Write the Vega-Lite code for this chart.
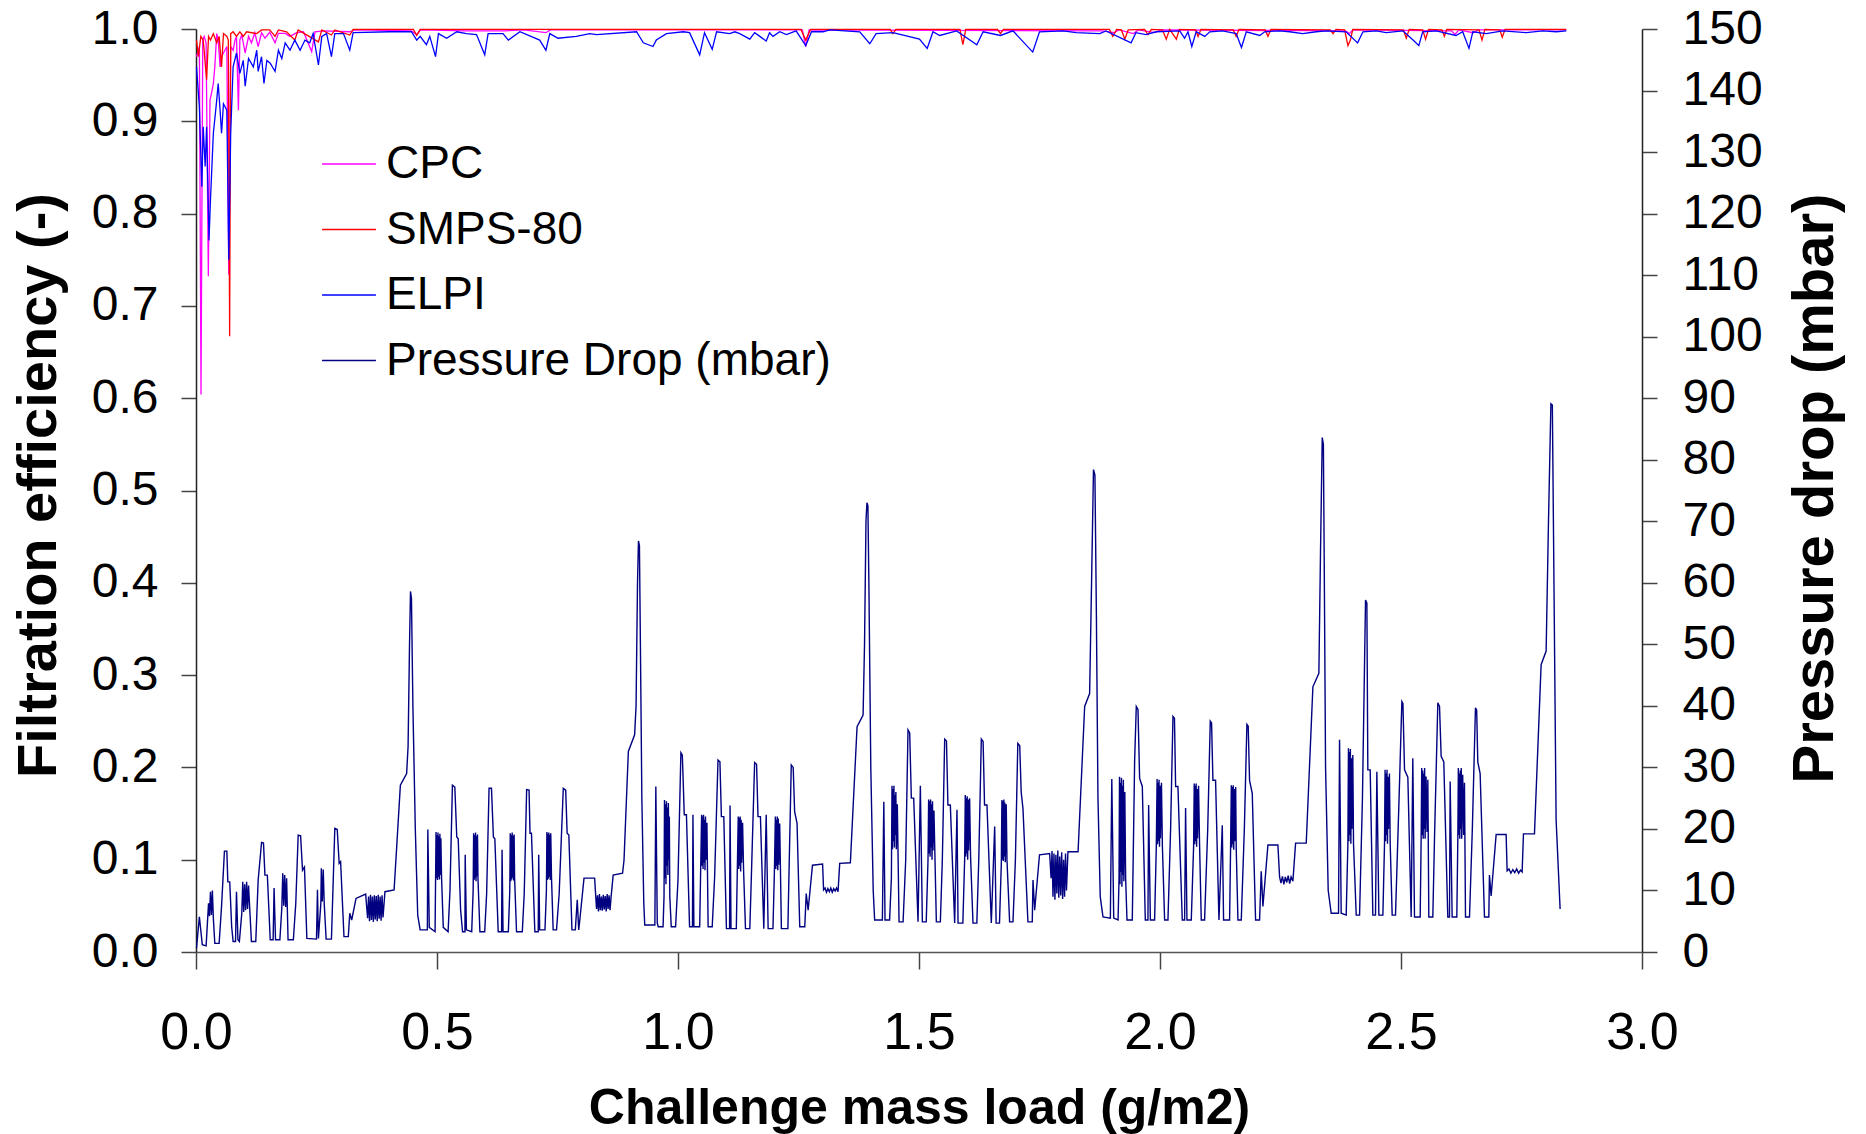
{
  "$schema": "https://vega.github.io/schema/vega-lite/v6.json",
  "autosize": {"type": "none"},
  "padding": {"left": 196, "top": 29, "right": 224, "bottom": 182},
  "width": 1446,
  "height": 923,
  "background": "white",
  "config": {
    "view": {"stroke": null},
    "font": "Liberation Sans",
    "axis": {"grid": false, "labelFont": "Liberation Sans", "titleFont": "Liberation Sans", "labelColor": "black", "titleColor": "black", "domainColor": "#222", "tickColor": "#444", "domainWidth": 1.5, "tickWidth": 1.5, "labelFlush": false, "labelOverlap": false}
  },
  "datasets": {
    "dp": [
      {"x":0.001,"p":0.6},{"x":0.007,"p":5.7},{"x":0.010,"p":3.5},{"x":0.013,"p":1.2},{"x":0.021,"p":1.0},{"x":0.026,"p":7.9},{"x":0.028,"p":5.8},{"x":0.030,"p":9.8},{"x":0.032,"p":6.0},{"x":0.034,"p":10.0},{"x":0.036,"p":5.5},{"x":0.039,"p":1.4},{"x":0.048,"p":1.4},{"x":0.053,"p":7.4},{"x":0.059,"p":16.4},{"x":0.064,"p":16.4},{"x":0.066,"p":11.4},{"x":0.070,"p":11.4},{"x":0.074,"p":4.1},{"x":0.077,"p":1.7},{"x":0.082,"p":1.7},{"x":0.084,"p":9.8},{"x":0.087,"p":2.0},{"x":0.090,"p":1.7},{"x":0.095,"p":6.3},{"x":0.097,"p":11.4},{"x":0.099,"p":6.5},{"x":0.101,"p":11.0},{"x":0.103,"p":6.8},{"x":0.105,"p":11.4},{"x":0.107,"p":7.0},{"x":0.109,"p":10.8},{"x":0.112,"p":6.3},{"x":0.115,"p":1.7},{"x":0.124,"p":1.7},{"x":0.129,"p":11.7},{"x":0.136,"p":17.8},{"x":0.140,"p":17.7},{"x":0.143,"p":12.5},{"x":0.148,"p":12.5},{"x":0.154,"p":2.0},{"x":0.160,"p":2.0},{"x":0.162,"p":10.4},{"x":0.165,"p":2.0},{"x":0.174,"p":2.0},{"x":0.178,"p":7.1},{"x":0.180,"p":12.8},{"x":0.182,"p":7.5},{"x":0.184,"p":12.5},{"x":0.186,"p":7.3},{"x":0.188,"p":12.0},{"x":0.191,"p":2.0},{"x":0.202,"p":2.0},{"x":0.207,"p":7.9},{"x":0.212,"p":19.0},{"x":0.217,"p":18.9},{"x":0.221,"p":13.3},{"x":0.225,"p":13.8},{"x":0.230,"p":2.2},{"x":0.250,"p":2.1},{"x":0.252,"p":10.1},{"x":0.254,"p":2.2},{"x":0.259,"p":7.9},{"x":0.260,"p":13.6},{"x":0.262,"p":8.2},{"x":0.264,"p":13.4},{"x":0.266,"p":7.9},{"x":0.270,"p":2.1},{"x":0.281,"p":2.1},{"x":0.288,"p":20.1},{"x":0.293,"p":19.9},{"x":0.297,"p":14.4},{"x":0.300,"p":14.7},{"x":0.307,"p":2.5},{"x":0.316,"p":2.5},{"x":0.319,"p":6.3},{"x":0.323,"p":5.2},{"x":0.332,"p":8.7},{"x":0.352,"p":9.4},{"x":0.356,"p":5.5},{"x":0.358,"p":9.0},{"x":0.360,"p":5.0},{"x":0.362,"p":9.3},{"x":0.364,"p":5.2},{"x":0.366,"p":9.0},{"x":0.368,"p":4.9},{"x":0.370,"p":9.2},{"x":0.372,"p":5.3},{"x":0.374,"p":9.1},{"x":0.376,"p":5.0},{"x":0.378,"p":9.3},{"x":0.380,"p":5.4},{"x":0.382,"p":9.0},{"x":0.384,"p":5.1},{"x":0.386,"p":9.2},{"x":0.388,"p":5.6},{"x":0.392,"p":9.8},{"x":0.411,"p":10.1},{"x":0.416,"p":16.6},{"x":0.424,"p":27.1},{"x":0.437,"p":29.0},{"x":0.440,"p":33.4},{"x":0.443,"p":50.0},{"x":0.445,"p":58.6},{"x":0.447,"p":57.5},{"x":0.450,"p":40.0},{"x":0.455,"p":20.0},{"x":0.460,"p":6.0},{"x":0.465,"p":3.6},
      {"x":0.480,"p":3.6},{"x":0.481,"p":19.9},{"x":0.484,"p":4.0},{"x":0.496,"p":3.3},{"x":0.498,"p":19.5},{"x":0.499,"p":12.0},{"x":0.500,"p":19.0},{"x":0.501,"p":11.7},{"x":0.502,"p":19.4},{"x":0.503,"p":12.2},{"x":0.504,"p":18.8},{"x":0.505,"p":11.8},{"x":0.506,"p":19.2},{"x":0.507,"p":12.5},{"x":0.508,"p":18.5},{"x":0.5095,"p":12.0},{"x":0.513,"p":4.0},{"x":0.523,"p":3.3},{"x":0.527,"p":10.1},{"x":0.532,"p":27.1},{"x":0.537,"p":26.8},{"x":0.541,"p":18.7},{"x":0.544,"p":18.4},{"x":0.549,"p":6.8},{"x":0.553,"p":3.3},{"x":0.558,"p":3.3},{"x":0.5585,"p":15.8},{"x":0.561,"p":3.6},{"x":0.572,"p":3.3},{"x":0.575,"p":10.0},{"x":0.576,"p":19.3},{"x":0.577,"p":11.7},{"x":0.578,"p":19.0},{"x":0.579,"p":12.0},{"x":0.580,"p":19.4},{"x":0.581,"p":11.5},{"x":0.582,"p":18.8},{"x":0.583,"p":12.3},{"x":0.584,"p":19.1},{"x":0.585,"p":12.0},{"x":0.589,"p":3.3},{"x":0.599,"p":3.3},{"x":0.603,"p":9.5},{"x":0.608,"p":26.6},{"x":0.613,"p":26.6},{"x":0.617,"p":18.7},{"x":0.620,"p":18.4},{"x":0.627,"p":3.3},{"x":0.634,"p":3.3},{"x":0.635,"p":16.6},{"x":0.637,"p":3.3},{"x":0.648,"p":3.3},{"x":0.651,"p":10.0},{"x":0.652,"p":19.3},{"x":0.653,"p":11.5},{"x":0.654,"p":19.0},{"x":0.655,"p":11.8},{"x":0.656,"p":19.4},{"x":0.657,"p":12.1},{"x":0.658,"p":18.9},{"x":0.659,"p":11.6},{"x":0.660,"p":19.1},{"x":0.661,"p":12.0},{"x":0.665,"p":3.3},{"x":0.677,"p":3.3},{"x":0.681,"p":9.5},{"x":0.686,"p":26.4},{"x":0.691,"p":26.3},{"x":0.693,"p":19.3},{"x":0.696,"p":19.3},{"x":0.703,"p":3.3},{"x":0.710,"p":3.3},{"x":0.711,"p":15.8},{"x":0.713,"p":3.6},{"x":0.724,"p":3.6},{"x":0.727,"p":10.0},{"x":0.728,"p":19.5},{"x":0.729,"p":11.7},{"x":0.730,"p":19.2},{"x":0.731,"p":11.9},{"x":0.732,"p":19.4},{"x":0.733,"p":12.2},{"x":0.734,"p":19.0},{"x":0.735,"p":11.7},{"x":0.736,"p":19.3},{"x":0.7376,"p":12.0},{"x":0.741,"p":3.6},{"x":0.748,"p":3.6},{"x":0.7535,"p":9.5},{"x":0.762,"p":26.6},{"x":0.767,"p":26.3},{"x":0.770,"p":19.3},{"x":0.7735,"p":19.0},{"x":0.780,"p":3.6},{"x":0.787,"p":3.6},{"x":0.791,"p":8.5},{"x":0.794,"p":3.6},{"x":0.796,"p":5.0},{"x":0.805,"p":12.0},{"x":0.827,"p":12.0},{"x":0.831,"p":7.0},{"x":0.833,"p":9.2},{"x":0.835,"p":6.6},{"x":0.837,"p":9.4},{"x":0.839,"p":6.8},{"x":0.841,"p":9.0},{"x":0.843,"p":6.7},{"x":0.845,"p":9.3},{"x":0.847,"p":6.9},{"x":0.849,"p":9.1},{"x":0.851,"p":6.6},{"x":0.853,"p":9.4},{"x":0.855,"p":7.0},{"x":0.857,"p":9.2},{"x":0.859,"p":6.8},{"x":0.861,"p":8.8},{"x":0.8655,"p":12.5},{"x":0.885,"p":12.8},{"x":0.888,"p":14.9},{"x":0.897,"p":32.6},{"x":0.910,"p":35.3},{"x":0.913,"p":40.0},{"x":0.916,"p":60.0},{"x":0.918,"p":66.8},{"x":0.920,"p":66.0},{"x":0.922,"p":50.0},{"x":0.925,"p":25.0},{"x":0.929,"p":8.0},{"x":0.931,"p":4.4},
      {"x":0.952,"p":4.4},{"x":0.954,"p":26.9},{"x":0.957,"p":4.7},{"x":0.959,"p":4.1},{"x":0.969,"p":4.1},{"x":0.971,"p":9.0},{"x":0.972,"p":24.7},{"x":0.973,"p":12.0},{"x":0.974,"p":24.0},{"x":0.975,"p":11.0},{"x":0.976,"p":24.5},{"x":0.977,"p":14.0},{"x":0.978,"p":23.5},{"x":0.979,"p":12.5},{"x":0.980,"p":24.2},{"x":0.981,"p":15.0},{"x":0.982,"p":22.0},{"x":0.983,"p":9.0},{"x":0.986,"p":4.1},{"x":0.995,"p":4.1},{"x":1.000,"p":11.7},{"x":1.006,"p":32.4},{"x":1.009,"p":32.0},{"x":1.013,"p":22.3},{"x":1.0175,"p":22.3},{"x":1.024,"p":4.1},{"x":1.030,"p":4.1},{"x":1.031,"p":22.3},{"x":1.033,"p":4.1},{"x":1.045,"p":4.1},{"x":1.047,"p":13.3},{"x":1.049,"p":22.3},{"x":1.050,"p":14.0},{"x":1.051,"p":22.0},{"x":1.052,"p":13.5},{"x":1.053,"p":22.3},{"x":1.054,"p":14.5},{"x":1.055,"p":21.5},{"x":1.056,"p":13.3},{"x":1.057,"p":22.0},{"x":1.058,"p":15.0},{"x":1.060,"p":21.0},{"x":1.0625,"p":4.1},{"x":1.071,"p":4.1},{"x":1.076,"p":12.2},{"x":1.083,"p":31.2},{"x":1.087,"p":30.9},{"x":1.090,"p":22.0},{"x":1.095,"p":22.0},{"x":1.1005,"p":3.8},{"x":1.107,"p":3.8},{"x":1.108,"p":23.8},{"x":1.110,"p":3.8},{"x":1.121,"p":3.8},{"x":1.123,"p":13.1},{"x":1.125,"p":22.0},{"x":1.126,"p":13.5},{"x":1.127,"p":21.8},{"x":1.128,"p":14.0},{"x":1.129,"p":22.0},{"x":1.130,"p":13.1},{"x":1.131,"p":21.5},{"x":1.132,"p":14.5},{"x":1.134,"p":21.0},{"x":1.136,"p":13.5},{"x":1.140,"p":3.8},{"x":1.149,"p":3.8},{"x":1.152,"p":11.7},{"x":1.159,"p":30.8},{"x":1.163,"p":30.5},{"x":1.166,"p":22.0},{"x":1.171,"p":22.0},{"x":1.178,"p":3.8},{"x":1.183,"p":22.3},{"x":1.187,"p":3.8},{"x":1.197,"p":3.8},{"x":1.200,"p":13.1},{"x":1.202,"p":22.0},{"x":1.203,"p":13.5},{"x":1.204,"p":21.5},{"x":1.205,"p":14.0},{"x":1.206,"p":22.0},{"x":1.207,"p":13.3},{"x":1.208,"p":21.7},{"x":1.209,"p":14.2},{"x":1.211,"p":20.9},{"x":1.2145,"p":3.8},{"x":1.228,"p":3.8},{"x":1.230,"p":11.7},{"x":1.235,"p":30.4},{"x":1.239,"p":30.0},{"x":1.242,"p":22.8},{"x":1.247,"p":20.9},{"x":1.2526,"p":4.1},{"x":1.263,"p":4.1},{"x":1.266,"p":9.5},{"x":1.270,"p":6.8},{"x":1.279,"p":14.1},{"x":1.300,"p":14.3},{"x":1.302,"p":10.1},{"x":1.305,"p":10.4},{"x":1.308,"p":9.7},{"x":1.311,"p":10.3},{"x":1.314,"p":9.8},{"x":1.317,"p":10.4},{"x":1.320,"p":9.7},{"x":1.323,"p":10.3},{"x":1.326,"p":9.9},{"x":1.329,"p":10.4},{"x":1.332,"p":9.8},{"x":1.3355,"p":14.4},{"x":1.3576,"p":14.5},{"x":1.3715,"p":36.6},{"x":1.384,"p":38.5},{"x":1.387,"p":50.0},{"x":1.390,"p":70.0},{"x":1.392,"p":73.0},{"x":1.394,"p":72.5},{"x":1.396,"p":60.0},{"x":1.400,"p":30.0},{"x":1.405,"p":10.0},{"x":1.408,"p":5.2},
      {"x":1.424,"p":5.2},{"x":1.427,"p":24.4},{"x":1.4295,"p":5.2},{"x":1.439,"p":5.2},{"x":1.4427,"p":12.0},{"x":1.444,"p":27.0},{"x":1.445,"p":16.7},{"x":1.446,"p":26.5},{"x":1.447,"p":18.0},{"x":1.448,"p":27.0},{"x":1.449,"p":17.0},{"x":1.450,"p":25.5},{"x":1.451,"p":19.0},{"x":1.452,"p":26.0},{"x":1.453,"p":16.7},{"x":1.455,"p":24.0},{"x":1.4586,"p":4.9},{"x":1.467,"p":4.9},{"x":1.4724,"p":14.9},{"x":1.4772,"p":36.1},{"x":1.4807,"p":35.6},{"x":1.4841,"p":25.0},{"x":1.489,"p":25.0},{"x":1.498,"p":4.9},{"x":1.5028,"p":27.0},{"x":1.507,"p":4.9},{"x":1.515,"p":4.9},{"x":1.5187,"p":15.0},{"x":1.520,"p":24.8},{"x":1.521,"p":16.0},{"x":1.522,"p":24.5},{"x":1.523,"p":15.5},{"x":1.524,"p":24.8},{"x":1.525,"p":17.0},{"x":1.526,"p":24.0},{"x":1.527,"p":15.0},{"x":1.528,"p":24.5},{"x":1.529,"p":16.5},{"x":1.531,"p":23.0},{"x":1.536,"p":4.9},{"x":1.5443,"p":4.9},{"x":1.5484,"p":14.9},{"x":1.5533,"p":34.6},{"x":1.557,"p":34.3},{"x":1.560,"p":23.9},{"x":1.565,"p":23.9},{"x":1.574,"p":4.7},{"x":1.5788,"p":23.1},{"x":1.581,"p":4.7},{"x":1.591,"p":4.7},{"x":1.5947,"p":15.0},{"x":1.596,"p":25.5},{"x":1.597,"p":15.5},{"x":1.598,"p":25.0},{"x":1.599,"p":16.0},{"x":1.600,"p":25.3},{"x":1.601,"p":15.0},{"x":1.602,"p":24.8},{"x":1.603,"p":16.5},{"x":1.605,"p":25.0},{"x":1.607,"p":15.5},{"x":1.612,"p":4.7},{"x":1.620,"p":4.7},{"x":1.624,"p":15.0},{"x":1.6293,"p":34.6},{"x":1.633,"p":34.2},{"x":1.636,"p":23.9},{"x":1.641,"p":23.9},{"x":1.650,"p":4.7},{"x":1.657,"p":20.4},{"x":1.660,"p":4.7},{"x":1.667,"p":4.7},{"x":1.6708,"p":14.4},{"x":1.672,"p":24.7},{"x":1.673,"p":15.0},{"x":1.674,"p":24.5},{"x":1.675,"p":14.8},{"x":1.676,"p":24.8},{"x":1.677,"p":15.5},{"x":1.678,"p":24.3},{"x":1.679,"p":14.6},{"x":1.681,"p":24.0},{"x":1.6825,"p":15.0},{"x":1.688,"p":4.9},{"x":1.695,"p":4.9},{"x":1.700,"p":15.0},{"x":1.705,"p":33.9},{"x":1.709,"p":33.5},{"x":1.712,"p":26.0},{"x":1.7157,"p":23.3},{"x":1.726,"p":4.9},{"x":1.735,"p":4.9},{"x":1.7365,"p":11.7},{"x":1.740,"p":6.8},{"x":1.750,"p":15.8},{"x":1.771,"p":16.0},{"x":1.774,"p":12.0},{"x":1.776,"p":16.4},{"x":1.778,"p":9.0},{"x":1.780,"p":16.0},{"x":1.782,"p":8.5},{"x":1.784,"p":15.8},{"x":1.786,"p":9.5},{"x":1.788,"p":16.5},{"x":1.790,"p":8.8},{"x":1.792,"p":15.5},{"x":1.794,"p":9.2},{"x":1.796,"p":16.2},{"x":1.798,"p":8.6},{"x":1.800,"p":15.0},{"x":1.802,"p":9.0},{"x":1.804,"p":16.0},{"x":1.806,"p":10.0},{"x":1.809,"p":16.3},{"x":1.830,"p":16.3},{"x":1.8437,"p":39.9},{"x":1.854,"p":42.0},{"x":1.858,"p":60.0},{"x":1.862,"p":78.4},{"x":1.865,"p":77.5},{"x":1.868,"p":55.0},{"x":1.8713,"p":25.0},{"x":1.876,"p":9.0},{"x":1.8817,"p":5.7},
      {"x":1.897,"p":5.5},{"x":1.900,"p":28.1},{"x":1.904,"p":5.5},{"x":1.913,"p":5.2},{"x":1.915,"p":12.0},{"x":1.916,"p":28.5},{"x":1.917,"p":11.0},{"x":1.918,"p":27.5},{"x":1.919,"p":13.0},{"x":1.920,"p":28.3},{"x":1.921,"p":10.6},{"x":1.922,"p":27.0},{"x":1.923,"p":12.5},{"x":1.924,"p":28.0},{"x":1.925,"p":11.5},{"x":1.927,"p":26.0},{"x":1.9287,"p":12.0},{"x":1.9315,"p":5.2},{"x":1.9425,"p":5.2},{"x":1.9474,"p":31.2},{"x":1.9508,"p":39.9},{"x":1.9543,"p":39.4},{"x":1.9577,"p":28.2},{"x":1.9633,"p":26.9},{"x":1.9695,"p":5.2},{"x":1.975,"p":5.2},{"x":1.9764,"p":23.9},{"x":1.980,"p":5.2},{"x":1.9888,"p":5.2},{"x":1.9923,"p":17.1},{"x":1.994,"p":28.1},{"x":1.995,"p":17.5},{"x":1.996,"p":27.5},{"x":1.997,"p":18.0},{"x":1.998,"p":28.0},{"x":1.999,"p":17.1},{"x":2.000,"p":27.0},{"x":2.001,"p":18.5},{"x":2.003,"p":27.5},{"x":2.005,"p":17.1},{"x":2.0096,"p":5.2},{"x":2.0165,"p":5.2},{"x":2.022,"p":20.0},{"x":2.0269,"p":38.3},{"x":2.030,"p":38.0},{"x":2.0324,"p":26.9},{"x":2.0372,"p":26.9},{"x":2.0462,"p":5.2},{"x":2.0511,"p":5.2},{"x":2.0531,"p":23.4},{"x":2.0559,"p":5.2},{"x":2.0649,"p":5.2},{"x":2.0697,"p":17.1},{"x":2.071,"p":27.4},{"x":2.072,"p":17.5},{"x":2.073,"p":27.0},{"x":2.074,"p":18.0},{"x":2.075,"p":27.4},{"x":2.076,"p":17.1},{"x":2.077,"p":26.5},{"x":2.078,"p":18.5},{"x":2.080,"p":27.0},{"x":2.0822,"p":17.1},{"x":2.0856,"p":5.2},{"x":2.0925,"p":5.2},{"x":2.099,"p":20.0},{"x":2.1043,"p":37.5},{"x":2.107,"p":37.2},{"x":2.1098,"p":27.9},{"x":2.1153,"p":27.9},{"x":2.1223,"p":5.2},{"x":2.1292,"p":20.6},{"x":2.1319,"p":5.2},{"x":2.1444,"p":5.2},{"x":2.1464,"p":16.6},{"x":2.148,"p":27.1},{"x":2.149,"p":17.0},{"x":2.150,"p":26.8},{"x":2.151,"p":17.5},{"x":2.152,"p":27.1},{"x":2.153,"p":16.6},{"x":2.154,"p":26.5},{"x":2.155,"p":18.0},{"x":2.157,"p":26.8},{"x":2.1582,"p":16.6},{"x":2.1617,"p":5.2},{"x":2.1686,"p":5.2},{"x":2.175,"p":20.0},{"x":2.1803,"p":37.0},{"x":2.183,"p":36.7},{"x":2.1858,"p":27.9},{"x":2.1914,"p":25.8},{"x":2.1983,"p":5.2},{"x":2.2066,"p":5.2},{"x":2.2100,"p":13.1},{"x":2.2135,"p":7.4},{"x":2.2239,"p":17.4},{"x":2.2446,"p":17.4},{"x":2.2481,"p":12.2},{"x":2.251,"p":11.2},{"x":2.254,"p":12.3},{"x":2.257,"p":11.0},{"x":2.260,"p":12.2},{"x":2.263,"p":11.3},{"x":2.266,"p":12.4},{"x":2.269,"p":11.1},{"x":2.272,"p":12.2},{"x":2.2757,"p":11.5},{"x":2.2813,"p":17.7},{"x":2.3034,"p":17.7},{"x":2.3172,"p":43.1},{"x":2.3296,"p":45.3},{"x":2.333,"p":65.0},{"x":2.3366,"p":83.6},{"x":2.339,"p":82.5},{"x":2.341,"p":60.0},{"x":2.3435,"p":30.0},{"x":2.349,"p":10.0},{"x":2.3552,"p":6.3},
      {"x":2.3704,"p":6.3},{"x":2.3725,"p":34.5},{"x":2.3759,"p":6.3},{"x":2.3863,"p":6.0},{"x":2.3898,"p":17.6},{"x":2.391,"p":33.1},{"x":2.392,"p":18.0},{"x":2.393,"p":32.5},{"x":2.394,"p":19.0},{"x":2.395,"p":33.0},{"x":2.396,"p":17.6},{"x":2.397,"p":31.5},{"x":2.398,"p":20.0},{"x":2.400,"p":32.0},{"x":2.4015,"p":17.6},{"x":2.4071,"p":6.0},{"x":2.414,"p":6.0},{"x":2.420,"p":25.0},{"x":2.4264,"p":57.2},{"x":2.4292,"p":56.7},{"x":2.4312,"p":29.6},{"x":2.4361,"p":29.6},{"x":2.4416,"p":6.0},{"x":2.4471,"p":6.0},{"x":2.4499,"p":29.3},{"x":2.4541,"p":6.0},{"x":2.4624,"p":6.0},{"x":2.4658,"p":17.6},{"x":2.467,"p":29.6},{"x":2.468,"p":18.0},{"x":2.469,"p":29.0},{"x":2.470,"p":19.0},{"x":2.471,"p":29.6},{"x":2.472,"p":17.6},{"x":2.473,"p":28.5},{"x":2.474,"p":20.0},{"x":2.476,"p":29.0},{"x":2.4776,"p":17.6},{"x":2.4817,"p":6.0},{"x":2.4886,"p":6.0},{"x":2.496,"p":25.0},{"x":2.5018,"p":40.7},{"x":2.504,"p":40.4},{"x":2.5073,"p":29.6},{"x":2.5142,"p":28.4},{"x":2.5211,"p":5.7},{"x":2.5245,"p":31.5},{"x":2.5280,"p":5.7},{"x":2.5398,"p":5.7},{"x":2.5418,"p":18.4},{"x":2.543,"p":29.9},{"x":2.544,"p":19.0},{"x":2.545,"p":29.5},{"x":2.546,"p":18.4},{"x":2.547,"p":29.0},{"x":2.548,"p":20.0},{"x":2.549,"p":29.9},{"x":2.550,"p":18.4},{"x":2.552,"p":28.5},{"x":2.554,"p":19.5},{"x":2.5557,"p":28.0},{"x":2.5577,"p":5.7},{"x":2.5660,"p":5.7},{"x":2.5695,"p":18.4},{"x":2.5764,"p":40.5},{"x":2.5799,"p":39.9},{"x":2.5833,"p":31.8},{"x":2.5888,"p":30.9},{"x":2.5971,"p":5.7},{"x":2.6006,"p":5.7},{"x":2.6020,"p":27.7},{"x":2.6061,"p":5.7},{"x":2.6158,"p":5.7},{"x":2.6179,"p":18.4},{"x":2.619,"p":29.9},{"x":2.620,"p":19.0},{"x":2.621,"p":29.0},{"x":2.622,"p":18.4},{"x":2.623,"p":29.5},{"x":2.624,"p":20.0},{"x":2.625,"p":29.9},{"x":2.626,"p":18.4},{"x":2.628,"p":28.8},{"x":2.630,"p":19.0},{"x":2.6317,"p":27.5},{"x":2.6338,"p":5.7},{"x":2.6421,"p":5.7},{"x":2.648,"p":20.0},{"x":2.6545,"p":39.7},{"x":2.657,"p":39.3},{"x":2.6593,"p":30.9},{"x":2.6642,"p":29.0},{"x":2.6732,"p":5.7},{"x":2.6822,"p":5.7},{"x":2.6835,"p":12.5},{"x":2.6870,"p":9.1},{"x":2.6974,"p":19.1},{"x":2.7181,"p":19.1},{"x":2.7202,"p":13.2},{"x":2.724,"p":13.5},{"x":2.728,"p":12.8},{"x":2.732,"p":13.4},{"x":2.736,"p":12.9},{"x":2.740,"p":13.5},{"x":2.744,"p":12.8},{"x":2.748,"p":13.3},{"x":2.7513,"p":13.0},{"x":2.7541,"p":19.2},{"x":2.7769,"p":19.2},{"x":2.7907,"p":46.7},{"x":2.8011,"p":48.9},{"x":2.806,"p":70.0},{"x":2.8110,"p":89.1},{"x":2.8140,"p":88.9},{"x":2.8218,"p":21.5},{"x":2.8301,"p":7.0}
    ],
    "eff": [
      {"s":"CPC","x":0.001,"v":0.970},{"s":"CPC","x":0.007,"v":0.981},{"s":"CPC","x":0.0104,"v":0.604},{"s":"CPC","x":0.014,"v":0.988},{"s":"CPC","x":0.017,"v":0.992},{"s":"CPC","x":0.021,"v":0.985},{"s":"CPC","x":0.0256,"v":0.732},{"s":"CPC","x":0.029,"v":0.923},{"s":"CPC","x":0.032,"v":0.930},{"s":"CPC","x":0.036,"v":0.941},{"s":"CPC","x":0.039,"v":0.959},{"s":"CPC","x":0.043,"v":0.995},{"s":"CPC","x":0.046,"v":0.988},{"s":"CPC","x":0.050,"v":0.959},{"s":"CPC","x":0.053,"v":0.970},{"s":"CPC","x":0.057,"v":0.974},{"s":"CPC","x":0.060,"v":0.977},{"s":"CPC","x":0.064,"v":0.981},{"s":"CPC","x":0.068,"v":0.734},{"s":"CPC","x":0.072,"v":0.981},{"s":"CPC","x":0.077,"v":0.977},{"s":"CPC","x":0.081,"v":0.988},{"s":"CPC","x":0.084,"v":0.992},{"s":"CPC","x":0.088,"v":0.912},{"s":"CPC","x":0.091,"v":0.988},{"s":"CPC","x":0.095,"v":0.9935},{"s":"CPC","x":0.102,"v":0.974},{"s":"CPC","x":0.109,"v":0.992},{"s":"CPC","x":0.115,"v":0.985},{"s":"CPC","x":0.122,"v":0.996},{"s":"CPC","x":0.129,"v":0.981},{"s":"CPC","x":0.136,"v":0.996},{"s":"CPC","x":0.143,"v":0.990},{"s":"CPC","x":0.153,"v":0.9965},{"s":"CPC","x":0.164,"v":0.985},{"s":"CPC","x":0.171,"v":0.9953},{"s":"CPC","x":0.185,"v":0.9953},{"s":"CPC","x":0.195,"v":0.992},{"s":"CPC","x":0.209,"v":0.996},{"s":"CPC","x":0.223,"v":0.997},{"s":"CPC","x":0.240,"v":0.9755},{"s":"CPC","x":0.247,"v":0.997},{"s":"CPC","x":0.264,"v":0.998},{"s":"CPC","x":0.319,"v":0.997},{"s":"CPC","x":0.330,"v":0.999},{"s":"CPC","x":0.447,"v":0.998},{"s":"CPC","x":0.458,"v":0.994},{"s":"CPC","x":0.466,"v":0.999},{"s":"CPC","x":0.560,"v":0.998},{"s":"CPC","x":0.640,"v":0.998},{"s":"CPC","x":0.680,"v":0.999},{"s":"CPC","x":0.726,"v":0.996},{"s":"CPC","x":0.735,"v":0.999},{"s":"CPC","x":1.258,"v":0.999},{"s":"CPC","x":1.265,"v":0.981},{"s":"CPC","x":1.272,"v":0.999},{"s":"CPC","x":1.880,"v":0.998},{"s":"CPC","x":1.905,"v":0.996},{"s":"CPC","x":1.915,"v":0.999},{"s":"CPC","x":1.945,"v":0.995},{"s":"CPC","x":1.955,"v":0.999},{"s":"CPC","x":1.990,"v":0.996},{"s":"CPC","x":2.000,"v":0.999},{"s":"CPC","x":2.385,"v":0.998},{"s":"CPC","x":2.393,"v":0.995},{"s":"CPC","x":2.400,"v":0.999},{"s":"CPC","x":2.605,"v":0.998},{"s":"CPC","x":2.612,"v":0.994},{"s":"CPC","x":2.620,"v":0.999},{"s":"CPC","x":2.650,"v":0.996},{"s":"CPC","x":2.660,"v":0.999},{"s":"CPC","x":2.843,"v":0.999},
      {"s":"SMPS-80","x":0.001,"v":0.988},{"s":"SMPS-80","x":0.005,"v":0.970},{"s":"SMPS-80","x":0.010,"v":0.992},{"s":"SMPS-80","x":0.015,"v":0.988},{"s":"SMPS-80","x":0.022,"v":0.945},{"s":"SMPS-80","x":0.026,"v":0.992},{"s":"SMPS-80","x":0.030,"v":0.988},{"s":"SMPS-80","x":0.036,"v":0.995},{"s":"SMPS-80","x":0.043,"v":0.985},{"s":"SMPS-80","x":0.048,"v":0.992},{"s":"SMPS-80","x":0.053,"v":0.959},{"s":"SMPS-80","x":0.057,"v":0.995},{"s":"SMPS-80","x":0.064,"v":0.992},{"s":"SMPS-80","x":0.067,"v":0.988},{"s":"SMPS-80","x":0.0698,"v":0.667},{"s":"SMPS-80","x":0.072,"v":0.995},{"s":"SMPS-80","x":0.077,"v":0.997},{"s":"SMPS-80","x":0.084,"v":0.992},{"s":"SMPS-80","x":0.091,"v":0.997},{"s":"SMPS-80","x":0.098,"v":0.992},{"s":"SMPS-80","x":0.105,"v":0.997},{"s":"SMPS-80","x":0.126,"v":0.995},{"s":"SMPS-80","x":0.136,"v":0.999},{"s":"SMPS-80","x":0.153,"v":0.999},{"s":"SMPS-80","x":0.164,"v":0.992},{"s":"SMPS-80","x":0.171,"v":0.999},{"s":"SMPS-80","x":0.188,"v":0.997},{"s":"SMPS-80","x":0.205,"v":0.988},{"s":"SMPS-80","x":0.212,"v":0.999},{"s":"SMPS-80","x":0.254,"v":0.986},{"s":"SMPS-80","x":0.261,"v":0.999},{"s":"SMPS-80","x":0.281,"v":0.9935},{"s":"SMPS-80","x":0.288,"v":0.999},{"s":"SMPS-80","x":0.319,"v":0.9935},{"s":"SMPS-80","x":0.326,"v":0.9996},{"s":"SMPS-80","x":0.451,"v":0.9996},{"s":"SMPS-80","x":0.458,"v":0.993},{"s":"SMPS-80","x":0.465,"v":0.9996},{"s":"SMPS-80","x":1.255,"v":0.9996},{"s":"SMPS-80","x":1.265,"v":0.988},{"s":"SMPS-80","x":1.275,"v":0.9996},{"s":"SMPS-80","x":1.440,"v":0.9996},{"s":"SMPS-80","x":1.446,"v":0.995},{"s":"SMPS-80","x":1.452,"v":0.9996},{"s":"SMPS-80","x":1.585,"v":0.9996},{"s":"SMPS-80","x":1.591,"v":0.983},{"s":"SMPS-80","x":1.597,"v":0.9996},{"s":"SMPS-80","x":1.663,"v":0.9996},{"s":"SMPS-80","x":1.669,"v":0.995},{"s":"SMPS-80","x":1.675,"v":0.9996},{"s":"SMPS-80","x":1.895,"v":0.9996},{"s":"SMPS-80","x":1.902,"v":0.992},{"s":"SMPS-80","x":1.910,"v":0.9996},{"s":"SMPS-80","x":1.920,"v":0.999},{"s":"SMPS-80","x":1.927,"v":0.989},{"s":"SMPS-80","x":1.934,"v":0.999},{"s":"SMPS-80","x":1.968,"v":0.9996},{"s":"SMPS-80","x":1.975,"v":0.994},{"s":"SMPS-80","x":1.982,"v":0.9996},{"s":"SMPS-80","x":2.005,"v":0.999},{"s":"SMPS-80","x":2.013,"v":0.989},{"s":"SMPS-80","x":2.020,"v":0.9996},{"s":"SMPS-80","x":2.034,"v":0.989},{"s":"SMPS-80","x":2.040,"v":0.9996},{"s":"SMPS-80","x":2.074,"v":0.999},{"s":"SMPS-80","x":2.079,"v":0.992},{"s":"SMPS-80","x":2.085,"v":0.9996},{"s":"SMPS-80","x":2.152,"v":0.999},{"s":"SMPS-80","x":2.158,"v":0.992},{"s":"SMPS-80","x":2.164,"v":0.9996},{"s":"SMPS-80","x":2.218,"v":0.999},{"s":"SMPS-80","x":2.224,"v":0.992},{"s":"SMPS-80","x":2.230,"v":0.9996},{"s":"SMPS-80","x":2.353,"v":0.999},{"s":"SMPS-80","x":2.359,"v":0.995},{"s":"SMPS-80","x":2.365,"v":0.9996},{"s":"SMPS-80","x":2.383,"v":0.999},{"s":"SMPS-80","x":2.390,"v":0.982},{"s":"SMPS-80","x":2.395,"v":0.988},{"s":"SMPS-80","x":2.400,"v":0.9996},{"s":"SMPS-80","x":2.505,"v":0.999},{"s":"SMPS-80","x":2.511,"v":0.990},{"s":"SMPS-80","x":2.517,"v":0.9996},{"s":"SMPS-80","x":2.545,"v":0.999},{"s":"SMPS-80","x":2.551,"v":0.989},{"s":"SMPS-80","x":2.557,"v":0.9996},{"s":"SMPS-80","x":2.585,"v":0.999},{"s":"SMPS-80","x":2.590,"v":0.992},{"s":"SMPS-80","x":2.595,"v":0.9996},{"s":"SMPS-80","x":2.662,"v":0.999},{"s":"SMPS-80","x":2.668,"v":0.988},{"s":"SMPS-80","x":2.674,"v":0.9996},{"s":"SMPS-80","x":2.705,"v":0.999},{"s":"SMPS-80","x":2.710,"v":0.991},{"s":"SMPS-80","x":2.716,"v":0.9996},{"s":"SMPS-80","x":2.843,"v":0.9996},
      {"s":"ELPI","x":0.001,"v":0.959},{"s":"ELPI","x":0.007,"v":0.916},{"s":"ELPI","x":0.012,"v":0.829},{"s":"ELPI","x":0.015,"v":0.894},{"s":"ELPI","x":0.019,"v":0.851},{"s":"ELPI","x":0.022,"v":0.894},{"s":"ELPI","x":0.027,"v":0.771},{"s":"ELPI","x":0.030,"v":0.815},{"s":"ELPI","x":0.036,"v":0.887},{"s":"ELPI","x":0.043,"v":0.923},{"s":"ELPI","x":0.046,"v":0.941},{"s":"ELPI","x":0.050,"v":0.912},{"s":"ELPI","x":0.053,"v":0.887},{"s":"ELPI","x":0.057,"v":0.919},{"s":"ELPI","x":0.060,"v":0.916},{"s":"ELPI","x":0.064,"v":0.912},{"s":"ELPI","x":0.068,"v":0.750},{"s":"ELPI","x":0.072,"v":0.887},{"s":"ELPI","x":0.077,"v":0.959},{"s":"ELPI","x":0.084,"v":0.974},{"s":"ELPI","x":0.091,"v":0.952},{"s":"ELPI","x":0.098,"v":0.966},{"s":"ELPI","x":0.102,"v":0.938},{"s":"ELPI","x":0.109,"v":0.968},{"s":"ELPI","x":0.119,"v":0.959},{"s":"ELPI","x":0.126,"v":0.977},{"s":"ELPI","x":0.129,"v":0.954},{"s":"ELPI","x":0.136,"v":0.970},{"s":"ELPI","x":0.141,"v":0.941},{"s":"ELPI","x":0.147,"v":0.966},{"s":"ELPI","x":0.154,"v":0.963},{"s":"ELPI","x":0.164,"v":0.954},{"s":"ELPI","x":0.171,"v":0.977},{"s":"ELPI","x":0.178,"v":0.968},{"s":"ELPI","x":0.185,"v":0.985},{"s":"ELPI","x":0.195,"v":0.977},{"s":"ELPI","x":0.205,"v":0.988},{"s":"ELPI","x":0.216,"v":0.977},{"s":"ELPI","x":0.226,"v":0.988},{"s":"ELPI","x":0.236,"v":0.985},{"s":"ELPI","x":0.243,"v":0.995},{"s":"ELPI","x":0.254,"v":0.961},{"s":"ELPI","x":0.261,"v":0.992},{"s":"ELPI","x":0.271,"v":0.995},{"s":"ELPI","x":0.281,"v":0.970},{"s":"ELPI","x":0.288,"v":0.995},{"s":"ELPI","x":0.306,"v":0.995},{"s":"ELPI","x":0.319,"v":0.977},{"s":"ELPI","x":0.326,"v":0.996},{"s":"ELPI","x":0.402,"v":0.997},{"s":"ELPI","x":0.447,"v":0.997},{"s":"ELPI","x":0.458,"v":0.988},{"s":"ELPI","x":0.465,"v":0.992},{"s":"ELPI","x":0.478,"v":0.983},{"s":"ELPI","x":0.485,"v":0.992},{"s":"ELPI","x":0.497,"v":0.970},{"s":"ELPI","x":0.503,"v":0.995},{"s":"ELPI","x":0.520,"v":0.990},{"s":"ELPI","x":0.541,"v":0.997},{"s":"ELPI","x":0.561,"v":0.995},{"s":"ELPI","x":0.582,"v":0.994},{"s":"ELPI","x":0.599,"v":0.972},{"s":"ELPI","x":0.606,"v":0.995},{"s":"ELPI","x":0.637,"v":0.995},{"s":"ELPI","x":0.648,"v":0.988},{"s":"ELPI","x":0.672,"v":0.997},{"s":"ELPI","x":0.713,"v":0.988},{"s":"ELPI","x":0.726,"v":0.977},{"s":"ELPI","x":0.734,"v":0.995},{"s":"ELPI","x":0.751,"v":0.990},{"s":"ELPI","x":0.789,"v":0.992},{"s":"ELPI","x":0.817,"v":0.995},{"s":"ELPI","x":0.831,"v":0.994},{"s":"ELPI","x":0.914,"v":0.997},{"s":"ELPI","x":0.928,"v":0.985},{"s":"ELPI","x":0.948,"v":0.981},{"s":"ELPI","x":0.955,"v":0.988},{"s":"ELPI","x":0.976,"v":0.995},{"s":"ELPI","x":1.011,"v":0.997},{"s":"ELPI","x":1.024,"v":0.996},{"s":"ELPI","x":1.045,"v":0.972},{"s":"ELPI","x":1.055,"v":0.996},{"s":"ELPI","x":1.071,"v":0.978},{"s":"ELPI","x":1.080,"v":0.997},{"s":"ELPI","x":1.107,"v":0.995},{"s":"ELPI","x":1.118,"v":0.997},{"s":"ELPI","x":1.128,"v":0.995},{"s":"ELPI","x":1.149,"v":0.989},{"s":"ELPI","x":1.159,"v":0.996},{"s":"ELPI","x":1.183,"v":0.987},{"s":"ELPI","x":1.190,"v":0.996},{"s":"ELPI","x":1.197,"v":0.992},{"s":"ELPI","x":1.211,"v":0.997},{"s":"ELPI","x":1.225,"v":0.994},{"s":"ELPI","x":1.245,"v":0.998},{"s":"ELPI","x":1.265,"v":0.982},{"s":"ELPI","x":1.277,"v":0.997},{"s":"ELPI","x":1.301,"v":0.997},{"s":"ELPI","x":1.315,"v":0.999},{"s":"ELPI","x":1.377,"v":0.997},{"s":"ELPI","x":1.398,"v":0.984},{"s":"ELPI","x":1.411,"v":0.995},{"s":"ELPI","x":1.446,"v":0.996},{"s":"ELPI","x":1.501,"v":0.989},{"s":"ELPI","x":1.517,"v":0.979},{"s":"ELPI","x":1.529,"v":0.997},{"s":"ELPI","x":1.543,"v":0.993},{"s":"ELPI","x":1.578,"v":0.998},{"s":"ELPI","x":1.620,"v":0.983},{"s":"ELPI","x":1.633,"v":0.997},{"s":"ELPI","x":1.669,"v":0.993},{"s":"ELPI","x":1.695,"v":0.998},{"s":"ELPI","x":1.736,"v":0.975},{"s":"ELPI","x":1.750,"v":0.997},{"s":"ELPI","x":1.799,"v":0.998},{"s":"ELPI","x":1.826,"v":0.996},{"s":"ELPI","x":1.875,"v":0.995},{"s":"ELPI","x":1.888,"v":0.998},{"s":"ELPI","x":1.940,"v":0.985},{"s":"ELPI","x":1.950,"v":0.996},{"s":"ELPI","x":1.971,"v":0.994},{"s":"ELPI","x":1.992,"v":0.997},{"s":"ELPI","x":2.041,"v":0.998},{"s":"ELPI","x":2.051,"v":0.990},{"s":"ELPI","x":2.058,"v":0.997},{"s":"ELPI","x":2.066,"v":0.981},{"s":"ELPI","x":2.075,"v":0.997},{"s":"ELPI","x":2.093,"v":0.992},{"s":"ELPI","x":2.103,"v":0.997},{"s":"ELPI","x":2.130,"v":0.998},{"s":"ELPI","x":2.158,"v":0.995},{"s":"ELPI","x":2.169,"v":0.980},{"s":"ELPI","x":2.179,"v":0.997},{"s":"ELPI","x":2.207,"v":0.993},{"s":"ELPI","x":2.217,"v":0.997},{"s":"ELPI","x":2.248,"v":0.998},{"s":"ELPI","x":2.269,"v":0.997},{"s":"ELPI","x":2.296,"v":0.995},{"s":"ELPI","x":2.324,"v":0.997},{"s":"ELPI","x":2.345,"v":0.998},{"s":"ELPI","x":2.386,"v":0.997},{"s":"ELPI","x":2.410,"v":0.985},{"s":"ELPI","x":2.421,"v":0.997},{"s":"ELPI","x":2.449,"v":0.998},{"s":"ELPI","x":2.469,"v":0.996},{"s":"ELPI","x":2.504,"v":0.998},{"s":"ELPI","x":2.525,"v":0.988},{"s":"ELPI","x":2.537,"v":0.982},{"s":"ELPI","x":2.545,"v":0.997},{"s":"ELPI","x":2.573,"v":0.998},{"s":"ELPI","x":2.614,"v":0.993},{"s":"ELPI","x":2.628,"v":0.997},{"s":"ELPI","x":2.641,"v":0.979},{"s":"ELPI","x":2.649,"v":0.997},{"s":"ELPI","x":2.677,"v":0.995},{"s":"ELPI","x":2.711,"v":0.998},{"s":"ELPI","x":2.760,"v":0.996},{"s":"ELPI","x":2.794,"v":0.998},{"s":"ELPI","x":2.822,"v":0.997},{"s":"ELPI","x":2.843,"v":0.998}
    ]
  },
  "encoding": {
    "x": {
      "field": "x", "type": "quantitative",
      "scale": {"domain": [0, 3], "nice": false, "zero": false},
      "axis": {
        "values": [0, 0.5, 1, 1.5, 2, 2.5, 3], "format": ".1f",
        "tickSize": 17, "labelPadding": 38, "labelFontSize": 52, "labelBaseline": "top", "labelFlush": false,
        "domainColor": "#555",
        "title": "Challenge mass load (g/m2)", "titleFontSize": 50, "titleFontWeight": "bold",
        "titleX": 723, "titleY": 171, "titleAlign": "center", "titleBaseline": "alphabetic"
      }
    }
  },
  "layer": [
    {
      "data": {"name": "eff"},
      "mark": {"type": "line", "strokeWidth": 1.3, "interpolate": "linear"},
      "encoding": {
        "y": {
          "field": "v", "type": "quantitative",
          "scale": {"domain": [0, 1], "nice": false},
          "axis": {
            "orient": "left",
            "values": [0, 0.1, 0.2, 0.3, 0.4, 0.5, 0.6, 0.7, 0.8, 0.9, 1.0], "format": ".1f",
            "tickSize": 15, "labelPadding": 23, "labelFontSize": 48, "labelFlush": false,
            "title": "Filtration efficiency (-)", "titleFontSize": 56, "titleFontWeight": "bold",
            "titleAngle": 270, "titleX": -158, "titleY": 456, "titleAlign": "center", "titleBaseline": "middle"
          }
        },
        "color": {
          "field": "s", "type": "nominal",
          "scale": {"domain": ["CPC", "SMPS-80", "ELPI", "Pressure Drop (mbar)"], "range": ["#ff00ff", "#ff0000", "#0000ff", "#000080"]},
          "legend": {
            "orient": "none", "legendX": 125, "legendY": 107, "title": null,
            "symbolType": "stroke", "symbolSize": 2900, "symbolStrokeWidth": 1.5,
            "labelFontSize": 46, "labelFont": "Liberation Sans", "labelColor": "black", "labelOffset": 9,
            "rowPadding": 14.5, "padding": 0, "labelLimit": 0
          }
        }
      }
    },
    {
      "data": {"name": "dp"},
      "mark": {"type": "line", "strokeWidth": 1.4, "color": "#000080"},
      "encoding": {
        "y": {
          "field": "p", "type": "quantitative",
          "scale": {"domain": [0, 150], "nice": false},
          "axis": {
            "orient": "right",
            "values": [0, 10, 20, 30, 40, 50, 60, 70, 80, 90, 100, 110, 120, 130, 140, 150],
            "tickSize": 15, "labelPadding": 25, "labelFontSize": 48, "labelFlush": false,
            "title": "Pressure drop (mbar)", "titleFontSize": 58, "titleFontWeight": "bold",
            "titleAngle": 270, "titleX": 173, "titleY": 459, "titleAlign": "center", "titleBaseline": "middle"
          }
        },
        "color": {"datum": "Pressure Drop (mbar)", "type": "nominal"}
      }
    }
  ],
  "resolve": {"scale": {"y": "independent"}, "axis": {"y": "independent"}}
}
